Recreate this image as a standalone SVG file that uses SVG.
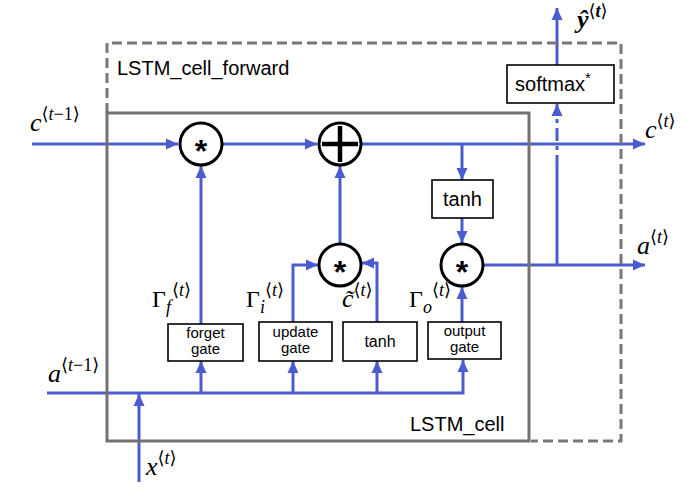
<svg xmlns="http://www.w3.org/2000/svg" width="690" height="494" viewBox="0 0 690 494">
<defs>
<marker id="ah" markerUnits="userSpaceOnUse" markerWidth="12" markerHeight="12" viewBox="0 0 12 12" refX="12" refY="6" orient="auto">
<path d="M0,0.5 L12,6 L0,11.5 Z" fill="#4a5cd0"/>
</marker>
<style>
.c{fill:none;stroke:#4a5cd0;stroke-width:3}
.op{fill:#fff;stroke:#000;stroke-width:3}
.bx{fill:#fff;stroke:#000;stroke-width:1.6}
.frame{fill:none;stroke:#767171;stroke-width:3}
.dash{fill:none;stroke:#7a7676;stroke-width:3;stroke-dasharray:10 5}
.t{font-family:"Liberation Sans","Open Sans",sans-serif;fill:#000}
.m{font-family:"Liberation Serif","DejaVu Serif",serif;font-style:italic;fill:#000}
.u{font-style:normal}
.star{font-family:"Liberation Sans",sans-serif;font-weight:bold;font-size:32px;text-anchor:middle}
</style>
</defs>
<rect width="690" height="494" fill="#fff"/>

<g id="connectors">
<path class="c" d="M32,144 H178" marker-end="url(#ah)"/>
<path class="c" d="M222,144 H317" marker-end="url(#ah)"/>
<path class="c" d="M362,144 H645" marker-end="url(#ah)"/>
<path class="c" d="M462,144 V180" marker-end="url(#ah)"/>
<path class="c" d="M462,218 V243" marker-end="url(#ah)"/>
<path class="c" d="M483,265 H645" marker-end="url(#ah)"/>
<path class="c" d="M557,265 V168"/>
<path class="c" d="M557,168 V104" stroke-dasharray="13 5 4 5" marker-end="url(#ah)"/>
<path class="c" d="M557,65 V8" marker-end="url(#ah)"/>
<path class="c" d="M340,244 V166" marker-end="url(#ah)"/>
<path class="c" d="M293,322 V265 H318" marker-end="url(#ah)"/>
<path class="c" d="M377,322 V263 H362" marker-end="url(#ah)"/>
<path class="c" d="M462,322 V287" marker-end="url(#ah)"/>
<path class="c" d="M201,324 V166" marker-end="url(#ah)"/>
<path class="c" d="M47,393 H463 V360" marker-end="url(#ah)"/>
<path class="c" d="M201,393 V361" marker-end="url(#ah)"/>
<path class="c" d="M293,393 V361" marker-end="url(#ah)"/>
<path class="c" d="M377,393 V361" marker-end="url(#ah)"/>
<path class="c" d="M139,482 V394" marker-end="url(#ah)"/>
</g>

<g id="lstm_cell_forward">
<path class="dash" d="M107,113 V43 H621 V441 H531"/>
<text class="t" x="117" y="75" font-size="20">LSTM_cell_forward</text>
</g>

<g id="lstm_cell">
<rect class="frame" x="107" y="113" width="422" height="328"/>
<text class="t" x="410" y="431" font-size="20">LSTM_cell</text>
</g>

<g id="forget_mult">
<circle class="op" cx="201" cy="144" r="21"/>
<text class="star" x="201" y="162">*</text>
</g>
<g id="plus">
<circle class="op" cx="340" cy="144" r="21"/>
<path d="M322,144 H358 M340,126 V162" stroke="#000" stroke-width="4.5"/>
</g>
<g id="update_mult">
<circle class="op" cx="340" cy="265" r="21"/>
<text class="star" x="340" y="283">*</text>
</g>
<g id="output_mult">
<circle class="op" cx="462" cy="265" r="21"/>
<text class="star" x="462" y="283">*</text>
</g>

<g id="tanh_top">
<rect class="bx" x="432" y="180" width="61" height="38"/>
<text class="t" x="462.5" y="206" font-size="20" text-anchor="middle">tanh</text>
</g>
<g id="softmax">
<rect class="bx" x="507" y="65" width="107" height="38"/>
<text class="t" x="553" y="91" font-size="20" text-anchor="middle">softmax<tspan font-size="15" dy="-8">*</tspan></text>
</g>

<g id="forget_gate">
<rect class="bx" x="168" y="324" width="75" height="37"/>
<text class="t" font-size="15" text-anchor="middle"><tspan x="205.5" y="338">forget</tspan><tspan x="205.5" dy="16">gate</tspan></text>
</g>
<g id="update_gate">
<rect class="bx" x="259" y="322" width="73" height="39"/>
<text class="t" font-size="15" text-anchor="middle"><tspan x="295.5" y="337">update</tspan><tspan x="295.5" dy="16">gate</tspan></text>
</g>
<g id="tanh_gate">
<rect class="bx" x="343" y="322" width="74" height="39"/>
<text class="t" x="380" y="347" font-size="16" text-anchor="middle">tanh</text>
</g>
<g id="output_gate">
<rect class="bx" x="428" y="322" width="73" height="37"/>
<text class="t" font-size="15" text-anchor="middle"><tspan x="464.5" y="336">output</tspan><tspan x="464.5" dy="16">gate</tspan></text>
</g>

<g id="labels">
<text class="m" x="30" y="131" font-size="26">c<tspan class="u" font-size="18" dy="-11">⟨</tspan><tspan font-size="18">t</tspan><tspan class="u" font-size="18">−1⟩</tspan></text>
<text class="m" x="48" y="382" font-size="26">a<tspan class="u" font-size="18" dy="-11">⟨</tspan><tspan font-size="18">t</tspan><tspan class="u" font-size="18">−1⟩</tspan></text>
<text class="m" x="146" y="475" font-size="26">x<tspan class="u" font-size="18" dy="-11">⟨</tspan><tspan font-size="18">t</tspan><tspan class="u" font-size="18">⟩</tspan></text>
<text class="m" x="645" y="138" font-size="26">c<tspan class="u" font-size="18" dy="-11">⟨</tspan><tspan font-size="18">t</tspan><tspan class="u" font-size="18">⟩</tspan></text>
<text class="m" x="637" y="254" font-size="26">a<tspan class="u" font-size="18" dy="-11">⟨</tspan><tspan font-size="18">t</tspan><tspan class="u" font-size="18">⟩</tspan></text>
<text class="m" x="577" y="28" font-size="26" font-weight="bold">ŷ<tspan class="u" font-size="18" dy="-11" font-weight="normal">⟨</tspan><tspan font-size="18">t</tspan><tspan class="u" font-size="18" font-weight="normal">⟩</tspan></text>
<text class="m" x="152" y="307" font-size="24"><tspan class="u">Γ</tspan><tspan font-size="18" dy="6">f</tspan><tspan class="u" font-size="18" dx="1" dy="-17">⟨</tspan><tspan font-size="18">t</tspan><tspan class="u" font-size="18">⟩</tspan></text>
<text class="m" x="246" y="307" font-size="24"><tspan class="u">Γ</tspan><tspan font-size="18" dy="6">i</tspan><tspan class="u" font-size="18" dx="0" dy="-17">⟨</tspan><tspan font-size="18">t</tspan><tspan class="u" font-size="18">⟩</tspan></text>
<text class="m" x="342" y="307" font-size="26">c̃<tspan class="u" font-size="18" dy="-11">⟨</tspan><tspan font-size="18">t</tspan><tspan class="u" font-size="18">⟩</tspan></text>
<text class="m" x="409" y="307" font-size="24"><tspan class="u">Γ</tspan><tspan font-size="18" dy="6">o</tspan><tspan class="u" font-size="18" dx="0" dy="-17">⟨</tspan><tspan font-size="18">t</tspan><tspan class="u" font-size="18">⟩</tspan></text>
</g>
</svg>
